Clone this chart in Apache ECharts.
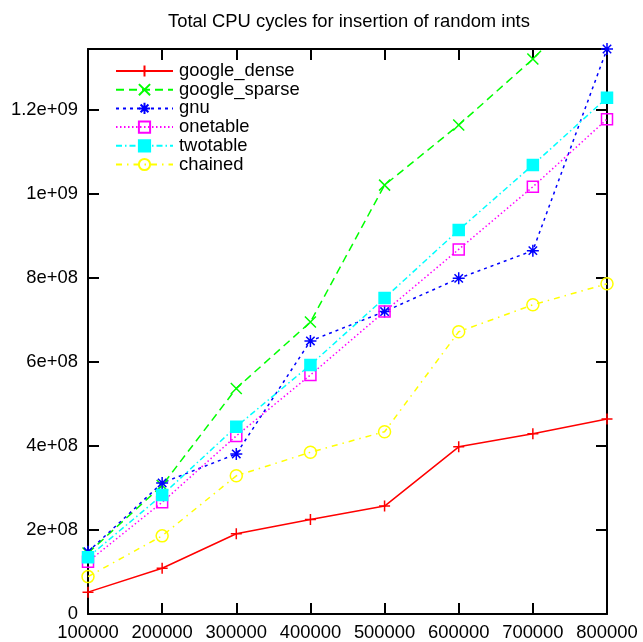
<!DOCTYPE html>
<html>
<head>
<meta charset="utf-8">
<script src="https://cdn.jsdelivr.net/npm/echarts@6/dist/echarts.min.js"></script>
<style>
html,body{margin:0;padding:0;background:#fff;}
#chart{width:643px;height:642px;}
</style>
</head>
<body>
<div id="chart"></div>
<script>
const titleText = 'Total CPU cycles for insertion of random ints';
const xValues = [100000, 200000, 300000, 400000, 500000, 600000, 700000, 800000];
const xTickLabels = ['100000', '200000', '300000', '400000', '500000', '600000', '700000', '800000'];
const yTickLabels = ['0', '2e+08', '4e+08', '6e+08', '8e+08', '1e+09', '1.2e+09'];
const yStep = 2e8;
const yMax = 1.345e9;

const googleDense  = [5.2e7, 1.09e8, 1.91e8, 2.25e8, 2.57e8, 3.98e8, 4.29e8, 4.64e8];
const googleSparse = [1.45e8, 3.06e8, 5.37e8, 6.95e8, 1.021e9, 1.164e9, 1.321e9, 1.50e9];
const gnu          = [1.48e8, 3.12e8, 3.81e8, 6.50e8, 7.20e8, 7.99e8, 8.65e8, 1.345e9];
const onetable     = [1.245e8, 2.66e8, 4.24e8, 5.69e8, 7.20e8, 8.68e8, 1.017e9, 1.178e9];
const twotable     = [1.35e8, 2.83e8, 4.46e8, 5.93e8, 7.52e8, 9.14e8, 1.069e9, 1.229e9];
const chained      = [8.9e7, 1.86e8, 3.29e8, 3.85e8, 4.34e8, 6.72e8, 7.36e8, 7.86e8];

const seriesNames = ['google_dense', 'google_sparse', 'gnu', 'onetable', 'twotable', 'chained'];
const seriesData = [googleDense, googleSparse, gnu, onetable, twotable, chained];

const FONT = "'Liberation Sans', Arial, sans-serif";
const FS = 18.4;
const plusPath = 'path://M0,5L10,5M5,0L5,10';
const crossPath = 'path://M0,0L10,10M0,10L10,0';
const starPath = 'path://M0,5L10,5M5,0L5,10M1.5,1.5L8.5,8.5M1.5,8.5L8.5,1.5';

const styles = [
  {color: '#ff0000', type: 'solid', symbol: plusPath, size: 11, fill: 'transparent'},
  {color: '#00ff00', type: [8, 5], symbol: crossPath, size: 11, fill: 'transparent'},
  {color: '#0000ff', type: [3, 4], symbol: starPath, size: 12, fill: 'transparent'},
  {color: '#ff00ff', type: [1.5, 2.5], symbol: 'rect', size: 11, fill: 'transparent'},
  {color: '#00ffff', type: [6, 3, 1.5, 3], symbol: 'rect', size: 11, fill: '#00ffff'},
  {color: '#ffff00', type: [6, 5, 1.5, 5], symbol: 'circle', size: 12, fill: 'transparent'}
];

const series = seriesNames.map((name, i) => ({
  name: name,
  type: 'line',
  data: xValues.map((x, j) => [x, seriesData[i][j]]),
  symbol: styles[i].symbol,
  symbolSize: styles[i].size,
  showAllSymbol: true,
  clip: true,
  animation: false,
  lineStyle: {color: styles[i].color, width: 1.5, type: styles[i].type},
  itemStyle: {color: styles[i].fill, borderColor: styles[i].color, borderWidth: 1.5},
  emphasis: {disabled: true}
}));

const chart = echarts.init(document.getElementById('chart'), null, {renderer: 'canvas'});
const axisLine = {show: true, onZero: false, lineStyle: {color: '#000', width: 2}};
const axisTick = {show: true, inside: true, length: 11, lineStyle: {color: '#000', width: 2}};
chart.setOption({
  animation: false,
  backgroundColor: '#fff',
  title: {
    text: titleText, left: 344, top: 8, textAlign: 'center',
    textStyle: {fontFamily: FONT, fontSize: FS, fontWeight: 'normal', color: '#000'}
  },
  legend: {
    data: seriesNames,
    orient: 'vertical',
    left: 110, top: 57,
    itemWidth: 57, itemHeight: 14, itemGap: 0.7,
    selectedMode: false,
    textStyle: {fontFamily: FONT, fontSize: FS, color: '#000', lineHeight: 14, padding: [0, 0, 0, 1]}
  },
  grid: {left: 88, right: 36, top: 49, bottom: 28, containLabel: false},
  xAxis: [
    {
      type: 'value', min: 100000, max: 800000, interval: 100000, position: 'bottom',
      axisLine: axisLine, axisTick: axisTick, splitLine: {show: false},
      axisLabel: {margin: 10, fontFamily: FONT, fontSize: FS, color: '#000',
        formatter: v => xTickLabels[Math.round((v - 100000) / 100000)] || ''}
    },
    {
      type: 'value', min: 100000, max: 800000, interval: 100000, position: 'top',
      axisLine: axisLine, axisTick: axisTick, splitLine: {show: false}, axisLabel: {show: false}
    }
  ],
  yAxis: [
    {
      type: 'value', min: 0, max: yMax, interval: yStep, position: 'left',
      axisLine: axisLine, axisTick: axisTick, splitLine: {show: false},
      axisLabel: {margin: 10, fontFamily: FONT, fontSize: FS, color: '#000', showMaxLabel: false,
        formatter: v => { const k = Math.round(v / yStep); return (Math.abs(v - k * yStep) < 1 && yTickLabels[k]) ? yTickLabels[k] : ''; }}
    },
    {
      type: 'value', min: 0, max: yMax, interval: yStep, position: 'right',
      axisLine: axisLine, axisTick: axisTick, splitLine: {show: false}, axisLabel: {show: false}
    }
  ],
  series: series
});
</script>
</body>
</html>
